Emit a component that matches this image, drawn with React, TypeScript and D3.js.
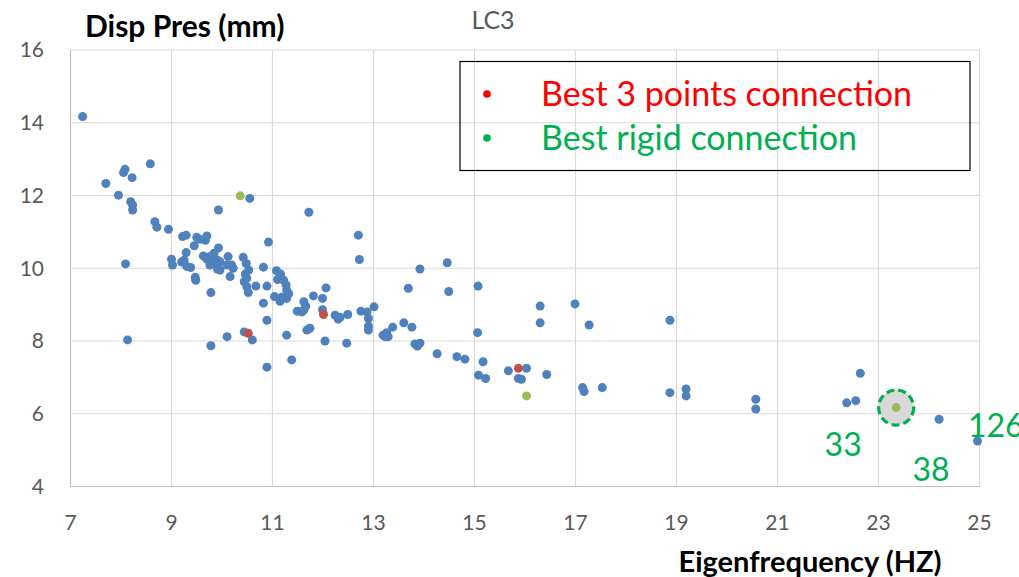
import React from "react";
import * as d3 from "d3";

// Eigenfrequency (Hz) vs. displacement (mm), load case LC3
const otherConnections: [number, number][] = [
  [7.24, 14.17], [8.58, 12.87], [8.08, 12.72], [8.05, 12.63], [8.22, 12.49],
  [7.7, 12.33], [7.95, 12.01], [8.19, 11.83], [8.23, 11.74], [8.23, 11.6],
  [8.67, 11.28], [8.71, 11.13], [8.94, 11.07], [9.22, 10.87], [9.29, 10.91],
  [9.5, 10.85], [9.56, 10.8], [9.7, 10.89], [9.67, 10.77], [9.45, 10.62],
  [9.93, 10.56], [9.29, 10.43], [9.63, 10.34], [9.7, 10.25], [9.76, 10.32],
  [9.84, 10.41], [9.9, 10.23], [9.96, 10.18], [9.82, 10.18], [9.87, 10.11],
  [9.76, 10.09], [10.12, 10.32], [9.0, 10.25], [9.02, 10.09], [9.2, 10.17],
  [9.25, 10.22], [9.3, 10.05], [9.38, 10.02], [9.91, 9.98], [9.96, 9.95],
  [10.1, 10.09], [10.19, 10.09], [10.22, 10.0], [10.16, 9.77], [9.47, 9.75],
  [9.48, 9.67], [9.78, 9.33], [8.09, 10.12], [8.13, 8.03], [9.78, 7.87],
  [10.42, 10.3], [10.48, 10.13], [10.53, 9.95], [10.46, 9.84], [10.49, 9.72],
  [10.44, 9.63], [10.49, 9.49], [10.52, 9.33], [10.55, 11.92], [9.93, 11.6],
  [11.72, 11.54], [10.92, 10.72], [12.7, 10.91], [12.72, 10.24], [10.82, 10.03],
  [11.08, 9.93], [11.16, 9.84], [11.1, 9.69], [11.22, 9.67], [11.27, 9.54],
  [11.28, 9.4], [11.32, 9.3], [11.18, 9.2], [11.04, 9.22], [11.15, 9.09],
  [11.28, 9.17], [10.67, 9.51], [10.89, 9.51], [10.82, 9.04], [10.89, 8.57],
  [12.06, 9.46], [11.81, 9.24], [11.99, 9.17], [11.62, 9.08], [11.66, 8.96],
  [11.62, 8.85], [11.49, 8.82], [11.58, 8.8], [11.99, 8.86], [12.24, 8.71],
  [12.3, 8.6], [12.34, 8.65], [12.49, 8.73], [12.75, 8.82], [12.87, 8.8],
  [13.01, 8.94], [12.9, 8.62], [12.9, 8.41], [12.9, 8.3], [11.68, 8.3],
  [11.74, 8.35], [10.44, 8.25], [10.6, 8.03], [10.1, 8.12], [11.28, 8.16],
  [12.04, 8.0], [12.47, 7.94], [10.89, 7.28], [11.38, 7.48], [13.92, 9.98],
  [14.46, 10.15], [13.69, 9.45], [14.49, 9.36], [15.07, 9.51], [16.3, 8.96],
  [16.3, 8.5], [16.99, 9.02], [17.27, 8.44], [18.87, 8.57], [13.19, 8.16],
  [13.26, 8.23], [13.29, 8.12], [13.38, 8.38], [13.23, 8.12], [13.6, 8.5],
  [13.76, 8.38], [13.82, 7.92], [13.92, 7.94], [13.87, 7.86], [15.06, 8.23],
  [14.26, 7.65], [14.65, 7.57], [14.81, 7.5], [15.17, 7.43], [15.08, 7.06],
  [15.22, 6.97], [15.67, 7.18], [16.03, 7.25], [15.87, 6.97], [15.93, 6.95],
  [16.43, 7.08], [17.14, 6.72], [17.17, 6.61], [17.53, 6.72], [18.87, 6.58],
  [19.19, 6.68], [19.19, 6.49], [20.57, 6.4], [20.57, 6.13], [22.64, 7.11],
  [22.37, 6.3], [22.55, 6.36], [24.2, 5.85], [24.96, 5.25],
];

const best3Points: [number, number][] = [
  [10.52, 8.21], [12.01, 8.73], [15.87, 7.25],
];

const bestRigid: [number, number][] = [
  [10.36, 11.99], [16.03, 6.49], [23.35, 6.17],
];

// Highlighted design and its neighbouring case numbers
const highlighted: [number, number] = [23.35, 6.17];
const caseLabels: { text: string; x: number; y: number; anchor: string }[] = [
  { text: "33", x: 22.3, y: 5.15, anchor: "middle" },
  { text: "38", x: 24.04, y: 4.45, anchor: "middle" },
  { text: "126", x: 24.77, y: 5.68, anchor: "start" },
];

const xTicks = [7, 9, 11, 13, 15, 17, 19, 21, 23, 25];
const yTicks = [4, 6, 8, 10, 12, 14, 16];

const legendItems = [
  { label: "Best 3 points connection", color: "#FF0000" },
  { label: "Best rigid connection", color: "#00B050" },
];

const W = 1019;
const H = 577;
const FONT = "Lato, 'Open Sans', sans-serif";

export default function App() {
  const x = d3.scaleLinear().domain([7, 25]).range([70.5, 979.5]);
  const y = d3.scaleLinear().domain([4, 16]).range([486.5, 50]);

  const dot = (d: [number, number], color: string, key: string) => (
    <circle key={key} cx={x(d[0])} cy={y(d[1])} r={4.5} fill={color} />
  );

  return (
    <div style={{ position: "absolute", left: 0, top: 0 }}>
      <svg width={W} height={H} style={{ display: "block", background: "#fff" }}>
        {/* grid */}
        {xTicks.map((t) => (
          <line key={"gx" + t} x1={x(t)} x2={x(t)} y1={y(16)} y2={y(4)}
            stroke={t === 7 ? "#bfbfbf" : "#d9d9d9"} strokeWidth={1.2} />
        ))}
        {yTicks.map((t) => (
          <line key={"gy" + t} x1={x(7)} x2={x(25)} y1={y(t)} y2={y(t)}
            stroke={t === 4 ? "#bfbfbf" : "#d9d9d9"} strokeWidth={1.2} />
        ))}

        {/* tick labels */}
        {yTicks.map((t) => (
          <text key={"ty" + t} x={44} y={y(t)} dy="0.35em" textAnchor="end"
            fontFamily={FONT} fontSize={21} fill="#595959">{t}</text>
        ))}
        {xTicks.map((t) => (
          <text key={"tx" + t} x={x(t)} y={523} dy="0.35em" textAnchor="middle"
            fontFamily={FONT} fontSize={21} fill="#595959">{t}</text>
        ))}

        {/* titles */}
        <text x={493} y={20} dy="0.35em" textAnchor="middle" fontFamily={FONT}
          fontSize={25} fill="#595959">LC3</text>
        <text x={85} y={37} fontFamily={FONT} fontSize={30} fontWeight="bold"
          fill="#000">Disp Pres (mm)</text>
        <text x={810} y={572} fontFamily={FONT} fontSize={29} fontWeight="bold"
          textAnchor="middle" fill="#000">Eigenfrequency (HZ)</text>

        {/* legend box */}
        <rect x={460} y={61.5} width={510} height={109} fill="none" stroke="#000" strokeWidth={1.2} />
        {legendItems.map((it, i) => (
          <g key={it.label}>
            <circle cx={487} cy={94 + i * 44} r={3.8} fill={it.color} />
            <text x={541} y={106 + i * 44} fontFamily={FONT} fontSize={34} fill={it.color}>
              {it.label}
            </text>
          </g>
        ))}

        {/* highlight around the chosen design */}
        <circle cx={x(highlighted[0])} cy={y(highlighted[1])} r={17.5}
          fill="#d9d9d9" stroke="#00B050" strokeWidth={3.2} strokeDasharray="8 4" />

        {/* points */}
        {otherConnections.map((d, i) => dot(d, "#4F81BD", "o" + i))}
        {best3Points.map((d, i) => dot(d, "#C0504D", "r" + i))}
        {bestRigid.map((d, i) => dot(d, "#9BBB59", "g" + i))}

        {caseLabels.map((c) => (
          <text key={c.text} x={x(c.x)} y={y(c.y)} textAnchor={c.anchor} dy="0.35em"
            fontFamily={FONT} fontSize={32} fill="#00B050">{c.text}</text>
        ))}
      </svg>
    </div>
  );
}
